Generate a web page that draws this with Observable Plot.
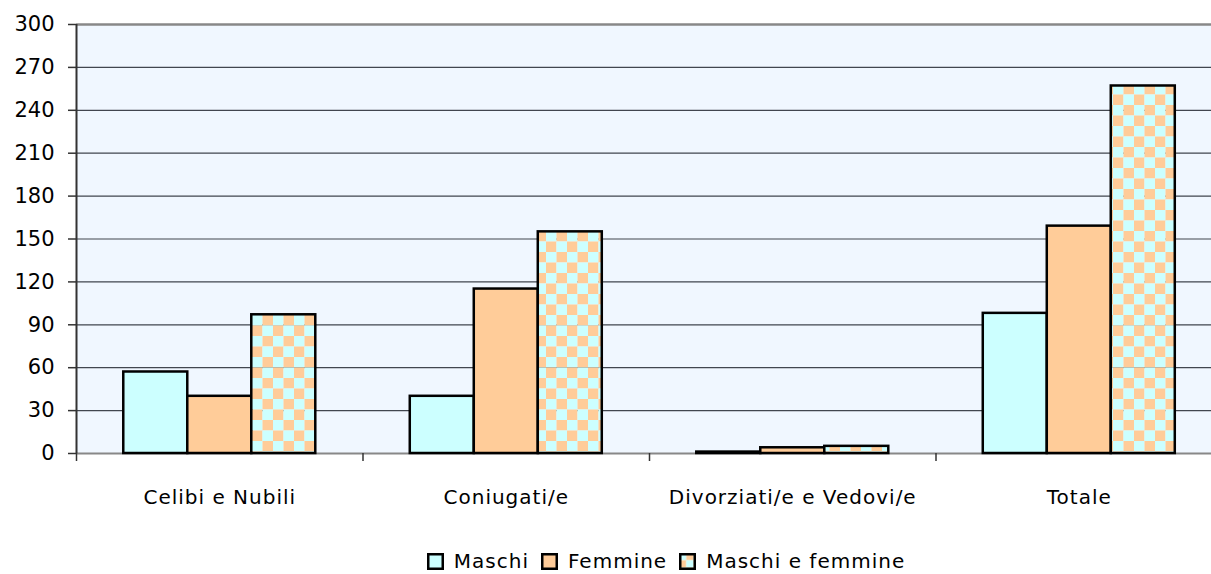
<!DOCTYPE html>
<html>
<head>
<meta charset="utf-8">
<script src="https://cdn.jsdelivr.net/npm/d3@7"></script>
<script src="https://cdn.jsdelivr.net/npm/@observablehq/plot@0.6"></script>
<style>
  html, body { margin: 0; padding: 0; background: #fff; overflow: hidden; }
  body { width: 1211px; }
  #chart svg { display: block; }
  #legend { display: flex; justify-content: center; align-items: center; gap: 12px;
    font-family: "Comic Sans MS", "DejaVu Sans", sans-serif; font-size: 20px; letter-spacing: 1px; color: #000;
    height: 23px; line-height: 23px; padding-left: 121px; margin-top: 0; }
  #legend .item { display: flex; align-items: center; gap: 10px; }
  #legend svg { display: block; }
</style>
</head>
<body>
<div id="chart"></div>
<div id="legend"></div>
<script>
const categories = ["Celibi e Nubili", "Coniugati/e", "Divorziati/e e Vedovi/e", "Totale"];
const series = ["Maschi", "Femmine", "Maschi e femmine"];
const maschi = [57, 40, 1, 98];
const femmine = [40, 115, 4, 159];
const maschiEFemmine = [97, 155, 5, 257];
const yTicks = [0, 30, 60, 90, 120, 150, 180, 210, 240, 270, 300];
const seriesColors = ["#CCFFFF", "#FFCC99", "url(#chk)"];

const values = [maschi, femmine, maschiEFemmine];
const outerPad = 0.165, barW = 0.2234;
const rows = categories.flatMap((c, i) => series.map((s, j) => ({
  cat: c, series: s, value: values[j][i],
  x1: i + outerPad + j * barW, x2: i + outerPad + (j + 1) * barW
})));

const font = "\"Comic Sans MS\", \"DejaVu Sans\", sans-serif";

const chart = Plot.plot({
  width: 1211,
  height: 550,
  marginLeft: 76,
  marginRight: -11,
  marginTop: 24,
  marginBottom: 97,
  style: { fontFamily: font, fontSize: "20px", color: "#000", background: "#fff", overflow: "hidden" },
  x: { domain: [0, categories.length], axis: null },
  y: { domain: [0, 300], axis: null },
  color: { domain: series, range: seriesColors },
  marks: [
    Plot.frame({ fill: "#F0F7FF", stroke: null }),
    Plot.ruleY(yTicks.filter(t => t > 0 && t < 300), { stroke: "#41464f", strokeWidth: 1.2 }),
    Plot.ruleY([300], { stroke: "#888", strokeWidth: 2.5 }),
    Plot.ruleY([0], { stroke: "#888", strokeWidth: 2 }),
    Plot.rectY(rows, { x1: "x1", x2: "x2", y1: 0, y2: "value", fill: "series", stroke: "#000", strokeWidth: 2.5 }),
    Plot.axisY({ ticks: yTicks, label: null, tickSize: 8, tickPadding: 14, stroke: "#333", strokeWidth: 1.5, fontSize: 21, fill: "#000" }),
    Plot.ruleX([0], { stroke: "#333", strokeWidth: 2 }),
    Plot.axisX({ ticks: d3.range(categories.length + 1), label: null, tickSize: 8, tickFormat: () => "", stroke: "#333", strokeWidth: 1.5 }),
    Plot.axisX({ ticks: categories.map((c, i) => i + 0.5), label: null, tickSize: 0, tickPadding: 36,
      tickFormat: v => categories[Math.round(v - 0.5)], fontSize: 20, fill: "#000" })
  ]
});

// checkerboard pattern for "Maschi e femmine"
const ns = "http://www.w3.org/2000/svg";
function addPattern(svg, id, cell) {
  const defs = document.createElementNS(ns, "defs");
  const pat = document.createElementNS(ns, "pattern");
  pat.setAttribute("id", id);
  pat.setAttribute("patternUnits", "userSpaceOnUse");
  pat.setAttribute("width", cell * 2);
  pat.setAttribute("height", cell * 2);
  const cells = [[0, 0, "#CCFFFF"], [cell, 0, "#FFCC99"], [0, cell, "#FFCC99"], [cell, cell, "#CCFFFF"]];
  for (const [x, y, f] of cells) {
    const r = document.createElementNS(ns, "rect");
    r.setAttribute("x", x); r.setAttribute("y", y);
    r.setAttribute("width", cell); r.setAttribute("height", cell);
    r.setAttribute("fill", f);
    pat.appendChild(r);
  }
  defs.appendChild(pat);
  svg.insertBefore(defs, svg.firstChild);
}
addPattern(chart, "chk", 10.5);
// widen category labels slightly (Comic Sans is wider than the fallback)
chart.querySelectorAll("g[aria-label='x-axis tick label'] text").forEach(t => t.setAttribute("letter-spacing", "1"));
document.getElementById("chart").appendChild(chart);

// legend
const legend = document.getElementById("legend");
series.forEach((s, j) => {
  const item = document.createElement("div");
  item.className = "item";
  const sw = document.createElementNS(ns, "svg");
  sw.setAttribute("width", 17); sw.setAttribute("height", 17);
  if (j === 2) addPattern(sw, "chkLegend", 7.25);
  const r = document.createElementNS(ns, "rect");
  r.setAttribute("x", 1.25); r.setAttribute("y", 1.25);
  r.setAttribute("width", 14.5); r.setAttribute("height", 14.5);
  r.setAttribute("fill", j === 2 ? "url(#chkLegend)" : seriesColors[j]);
  r.setAttribute("stroke", "#000"); r.setAttribute("stroke-width", 2.5);
  sw.appendChild(r);
  const t = document.createElement("span");
  t.textContent = s;
  item.appendChild(sw); item.appendChild(t);
  legend.appendChild(item);
});
</script>
</body>
</html>
